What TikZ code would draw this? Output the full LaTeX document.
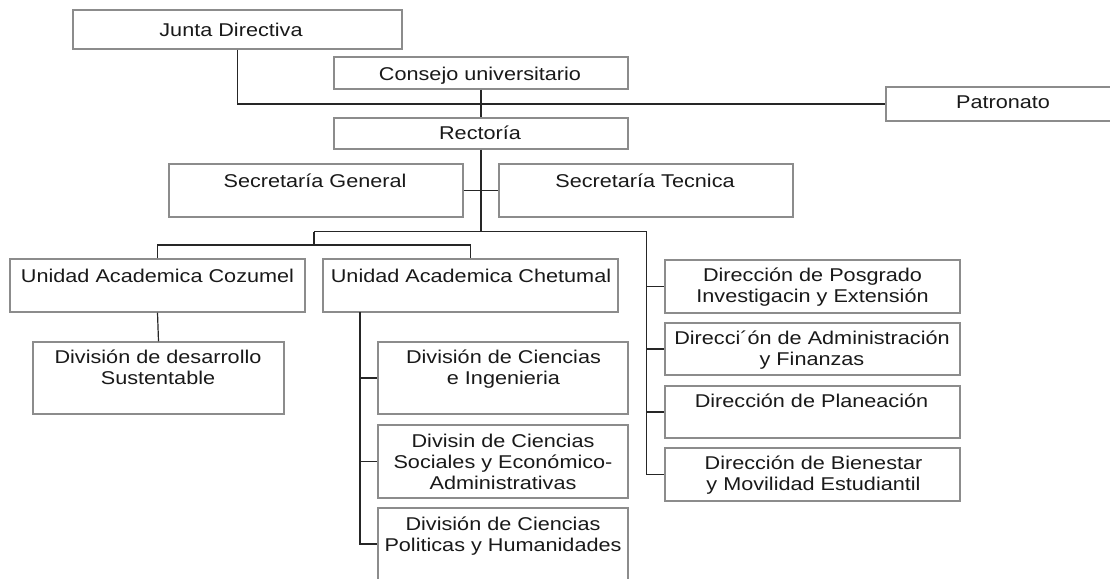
\documentclass[tikz,border=0pt]{standalone}
\usepackage{fontspec}
\setmainfont{Liberation Sans}[FakeStretch=1.17]
\newcommand\st{\rule{0pt}{15pt}}
\begin{document}
\begin{tikzpicture}[x=1pt,y=-1pt,
  box/.style={draw=boxgray, line width=1.3pt, rectangle, inner sep=0pt},
  txt/.style={font=\fontsize{18.5}{20.8}\selectfont, align=center, inner sep=0pt, anchor=north, text=black!90},
  conn/.style={draw=black!85, line width=1.2pt}]
\definecolor{boxgray}{RGB}{140,140,140}
\useasboundingbox (0,0) rectangle (1110,578);
\clip (0,0) rectangle (1110,578);
% boxes
\node[box, minimum width=329pt, minimum height=39pt] (jd) at (237.5,29.5) {};
\node[box, minimum width=294pt, minimum height=32pt] (cu) at (481,73) {};
\node[box, minimum width=234pt, minimum height=34pt] (pa) at (1003,104) {};
\node[box, minimum width=294pt, minimum height=31pt] (re) at (481,133.5) {};
\node[box, minimum width=294pt, minimum height=53pt] (sg) at (316,190.5) {};
\node[box, minimum width=294pt, minimum height=53pt] (st) at (646,190.5) {};
\node[box, minimum width=295pt, minimum height=53pt] (uc) at (157.5,285.5) {};
\node[box, minimum width=295pt, minimum height=53pt] (uh) at (470.5,285.5) {};
\node[box, minimum width=251pt, minimum height=72pt] (ds) at (158.5,378) {};
\node[box, minimum width=250pt, minimum height=72pt] (dc) at (503,378) {};
\node[box, minimum width=250pt, minimum height=73pt] (dsoc) at (503,461.5) {};
\node[box, minimum width=250pt, minimum height=72pt] (dp) at (503,544) {};
\node[box, minimum width=295pt, minimum height=53pt] (pos) at (812.5,286.5) {};
\node[box, minimum width=295pt, minimum height=52pt] (adm) at (812.5,349) {};
\node[box, minimum width=295pt, minimum height=52pt] (pla) at (812.5,412) {};
\node[box, minimum width=295pt, minimum height=53pt] (bie) at (812.5,474.5) {};
% texts
\node[txt] (jd-t) at (231,21.5) {\st Junta Directiva};
\node[txt] (cu-t) at (480,65.5) {\st Consejo universitario};
\node[txt] (pa-t) at (1003,93.5) {\st Patronato};
\node[txt] (re-t) at (480,124.5) {\st Rectoría};
\node[txt] (sg-t) at (315,172.5) {\st Secretaría General};
\node[txt] (st-t) at (645,172.5) {\st Secretaría Tecnica};
\node[txt] (uc-t) at (157.5,267.5) {\st Unidad Academica Cozumel};
\node[txt] (uh-t) at (471,267.5) {\st Unidad Academica Chetumal};
\node[txt] (ds-t) at (158,348.5) {\st División de desarrollo\\Sustentable};
\node[txt] (dc-t) at (503.5,348.5) {\st División de Ciencias\\e Ingenieria};
\node[txt] (dsoc-t) at (503,432.5) {\st Divisin de Ciencias\\Sociales y Económico-\\Administrativas};
\node[txt] (dp-t) at (503,515.5) {\st División de Ciencias\\Politicas y Humanidades};
\node[txt] (pos-t) at (812.5,266.5) {\st Dirección de Posgrado\\Investigacin y Extensión};
\node[txt] (adm-t) at (812,329.5) {\st Direcci´ón de Administración\\y Finanzas};
\node[txt] (pla-t) at (811.5,392.5) {\st Dirección de Planeación};
\node[txt] (bie-t) at (813.5,454.5) {\st Dirección de Bienestar\\y Movilidad Estudiantil};
% junction coordinates
\coordinate (j1) at (481,231.7);
\coordinate (jl) at (314,231.7);
\coordinate (jr) at (646.7,231.7);
\coordinate (j2) at (314,245);
\coordinate (uhl) at (360,312);
% connectors
\draw[conn] (jd.south) |- (pa.west);
\draw[conn] (cu.south) -- (re.north);
\draw[conn] (re.south) -- (j1);
\draw[conn] (sg.east) -- (st.west);
\draw[conn] (jl) -- (jr);
\draw[conn] (jl) -- (j2);
\draw[conn] (uc.north) |- (j2) -| (uh.north);
\draw[conn] (jr) |- (pos.west);
\draw[conn] (jr) |- (adm.west);
\draw[conn] (jr) |- (pla.west);
\draw[conn] (jr) |- (bie.west);
\draw[conn] (uc.south) -- (ds.north);
\draw[conn] (uhl) |- (dc.west);
\draw[conn] (uhl) |- (dsoc.west);
\draw[conn] (uhl) |- (dp.west);
\end{tikzpicture}
\end{document}
